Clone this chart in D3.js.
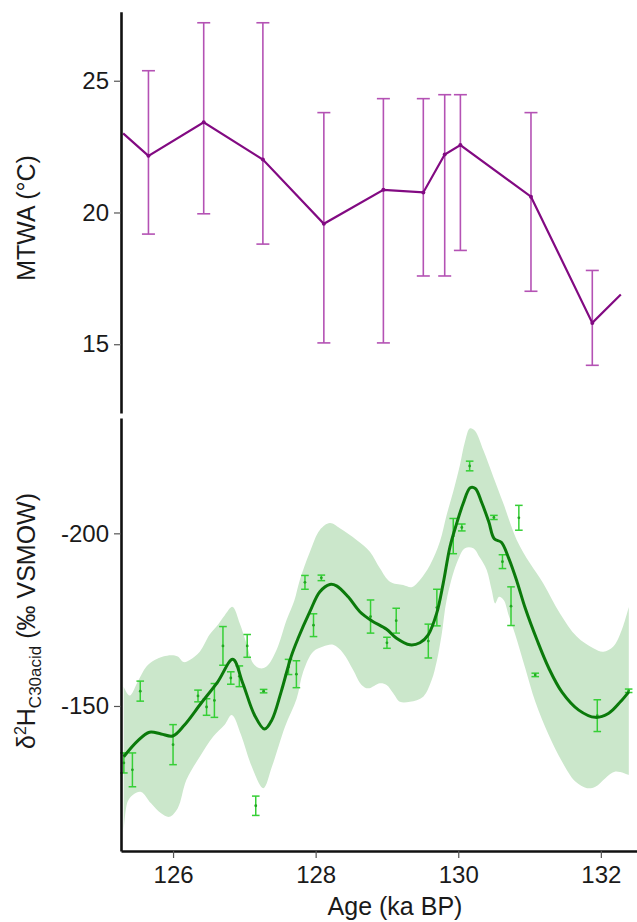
<!DOCTYPE html>
<html>
<head>
<meta charset="utf-8">
<script src="https://cdn.jsdelivr.net/npm/d3@7"></script>
<style>
  body { margin: 0; background: #fff; }
  svg { display: block; font-family: "Liberation Sans", Arial, sans-serif; }
</style>
</head>
<body>
<svg width="637" height="922"></svg>
<script>
// --- MTWA (top panel) ---
var mtwaAge = [125.30, 125.655, 126.43, 127.26, 128.115, 128.95, 129.51, 129.81, 130.03, 131.02, 131.88, 132.28];
var mtwaVal = [23.0, 22.15, 23.42, 22.01, 19.57, 20.86, 20.76, 22.2, 22.56, 20.6, 15.81, 16.89];
var mtwaHi  = [null, 25.38, 27.2, 27.2, 23.79, 24.32, 24.32, 24.47, 24.47, 23.79, 17.8, null];
var mtwaLo  = [null, 19.18, 19.95, 18.8, 15.05, 15.05, 17.59, 17.59, 18.56, 17.01, 14.2, null];
var mtwaTicks = [15, 20, 25];

// --- d2H C30 acid (bottom panel) ---
var d2hAge = [125.31, 125.43, 125.54, 126.00, 126.35, 126.47, 126.58, 126.70, 126.81, 126.93, 127.04,
              127.16, 127.27, 127.62, 127.73, 127.85, 127.97, 128.08, 128.77, 129.00, 129.13, 129.58,
              129.70, 129.93, 130.05, 130.16, 130.50, 130.62, 130.74, 130.85, 131.08, 131.95, 132.39];
var d2hVal = [-133.5, -131.5, -154.3, -138.8, -152.9, -149.7, -151.6, -167.4, -158.1, -158.6, -167.4,
              -121.1, -154.3, -161.3, -159.2, -185.8, -173.4, -187.1, -175.9, -168.3, -174.7, -168.8,
              -178.5, -199.2, -201.7, -219.5, -204.6, -191.8, -178.9, -204.5, -159.0, -147.2, -154.4];
var d2hErr = [2.9, 4.9, 2.9, 5.8, 1.7, 2.4, 4.9, 5.6, 1.8, 3.0, 3.3,
              2.8, 0.5, 2.2, 3.9, 2.0, 3.3, 0.8, 4.8, 1.6, 3.6, 4.9,
              5.3, 5.1, 1.0, 1.4, 0.6, 2.0, 5.6, 3.6, 0.5, 4.6, 0.5];

// smoothed fit
var fitAge = [125.308, 125.504, 125.669, 125.832, 125.996, 126.160, 126.393, 126.627, 126.838, 126.978,
              127.142, 127.283, 127.385, 127.516, 127.656, 127.754, 127.919, 128.059, 128.199, 128.293,
              128.456, 128.620, 128.785, 128.995, 129.135, 129.322, 129.462, 129.579, 129.697, 129.789,
              129.884, 129.978, 130.070, 130.168, 130.239, 130.333, 130.427, 130.505, 130.604, 130.707,
              130.824, 130.940, 131.105, 131.269, 131.455, 131.690, 131.923, 132.111, 132.274, 132.392];
var fitVal = [-135.3, -139.9, -142.4, -141.9, -141.3, -144.5, -150.8, -157.0, -163.5, -156.6,
              -147.4, -143.3, -145.9, -154.1, -164.3, -169.6, -177.3, -183.1, -185.2, -184.8,
              -181.6, -177.3, -174.7, -172.2, -169.6, -167.7, -168.3, -170.6, -176.8, -185.5,
              -196.1, -202.9, -208.7, -213.2, -213.0, -208.7, -203.4, -198.4, -197.4, -192.8,
              -186.0, -178.3, -169.1, -161.0, -154.0, -148.8, -146.7, -147.9, -151.2, -154.1];

// confidence band edges
var bandUpAge = [125.308, 125.392, 125.504, 125.627, 125.743, 125.860, 125.978, 126.066, 126.150, 126.234,
                 126.375, 126.511, 126.609, 126.726, 126.834, 126.936, 127.030, 127.123, 127.217, 127.311,
                 127.451, 127.592, 127.700, 127.778, 127.919, 128.059, 128.199, 128.339, 128.574, 128.761,
                 128.901, 129.042, 129.228, 129.346, 129.463, 129.604, 129.743, 129.837, 129.930, 130.024,
                 130.094, 130.164, 130.234, 130.351, 130.491, 130.632, 130.820, 131.006, 131.193, 131.427,
                 131.662, 131.895, 132.035, 132.175, 132.293, 132.392];
var bandUpVal = [-155.6, -153.0, -157.0, -161.4, -163.3, -164.3, -164.7, -164.3, -162.7, -163.3,
                 -165.7, -170.6, -173.0, -176.3, -178.7, -173.9, -168.1, -162.4, -160.9, -161.4,
                 -166.2, -174.9, -180.5, -186.5, -194.6, -201.0, -203.0, -201.5, -198.1, -194.7,
                 -189.9, -186.0, -185.0, -184.4, -186.5, -190.8, -197.6, -205.3, -212.1, -219.8,
                 -226.5, -230.4, -229.7, -224.1, -216.4, -208.7, -198.1, -191.3, -185.5, -176.8,
                 -170.1, -166.7, -165.7, -167.2, -172.0, -178.7];
var bandLoAge = [125.308, 125.364, 125.435, 125.551, 125.691, 125.832, 125.949, 126.066, 126.188, 126.375,
                 126.561, 126.721, 126.824, 126.954, 127.095, 127.266, 127.385, 127.570, 127.732, 127.825,
                 127.965, 128.105, 128.246, 128.386, 128.526, 128.644, 128.737, 128.901, 128.995, 129.088,
                 129.182, 129.322, 129.509, 129.627, 129.697, 129.767, 129.837, 129.978, 130.094, 130.211,
                 130.305, 130.399, 130.469, 130.519, 130.571, 130.637, 130.707, 130.800, 130.940, 131.081,
                 131.269, 131.455, 131.642, 131.806, 131.923, 132.063, 132.204, 132.392];
var bandLoVal = [-113.6, -122.3, -124.2, -125.1, -121.8, -118.9, -117.9, -120.4, -128.6, -135.3,
                 -141.1, -144.5, -147.4, -141.6, -132.9, -126.2, -132.3, -144.0, -152.0, -159.9,
                 -165.7, -167.2, -167.7, -165.3, -160.4, -156.1, -155.1, -156.6, -156.1, -153.7,
                 -151.2, -151.2, -152.7, -157.5, -162.8, -170.6, -180.7, -191.3, -195.7, -195.7,
                 -192.9, -189.4, -183.6, -179.7, -181.6, -180.7, -176.3, -170.6, -160.9, -151.2,
                 -141.6, -133.9, -128.1, -126.2, -126.6, -129.1, -131.0, -130.0];
var d2hTicks = [-200, -150];
var ageTicks = [126, 128, 130, 132];

var svg = d3.select("svg");

var x = d3.scaleLinear().domain([125.27, 132.5]).range([121, 636.5]);
var yTop = d3.scaleLinear().domain([12.39, 27.62]).range([413, 11.7]);
var yBot = d3.scaleLinear().domain([-233.4, -108]).range([418, 851]);

// plain hyphen for negatives, like the original
function plain(d) { return String(d); }

function styleAxis(g) {
    g.select(".domain").attr("stroke", "#111").attr("stroke-width", 2.6);
    g.selectAll(".tick line").attr("stroke", "#555").attr("stroke-width", 1.2);
    g.selectAll(".tick text").attr("fill", "#1a1a1a").style("font-size", "24px")
        .style("font-family", "'Liberation Sans', Arial, sans-serif");
}

// ---------- top panel ----------
var gTop = svg.append("g");
var mtwa = mtwaAge.map(function(a, i) {
    return { age: a, v: mtwaVal[i], hi: mtwaHi[i], lo: mtwaLo[i] };
});

var errTop = gTop.selectAll(".errTop")
    .data(mtwa.filter(function(d) { return d.hi != null; }))
    .enter().append("g")
    .attr("stroke", "#b452b4").attr("stroke-width", 1.6).attr("fill", "none");
errTop.append("line")
    .attr("x1", function(d) { return x(d.age); }).attr("x2", function(d) { return x(d.age); })
    .attr("y1", function(d) { return yTop(d.hi); }).attr("y2", function(d) { return yTop(d.lo); });
errTop.append("line")
    .attr("x1", function(d) { return x(d.age) - 6.5; }).attr("x2", function(d) { return x(d.age) + 6.5; })
    .attr("y1", function(d) { return yTop(d.hi); }).attr("y2", function(d) { return yTop(d.hi); });
errTop.append("line")
    .attr("x1", function(d) { return x(d.age) - 6.5; }).attr("x2", function(d) { return x(d.age) + 6.5; })
    .attr("y1", function(d) { return yTop(d.lo); }).attr("y2", function(d) { return yTop(d.lo); });

gTop.append("path")
    .datum(mtwa)
    .attr("fill", "none")
    .attr("stroke", "#820a82")
    .attr("stroke-width", 2.2)
    .attr("d", d3.line().x(function(d) { return x(d.age); }).y(function(d) { return yTop(d.v); }));

gTop.selectAll(".dotTop")
    .data(mtwa.slice(1, -1))
    .enter().append("circle")
    .attr("cx", function(d) { return x(d.age); })
    .attr("cy", function(d) { return yTop(d.v); })
    .attr("r", 2)
    .attr("fill", "#820a82");

var axTop = svg.append("g")
    .attr("transform", "translate(121,0)")
    .call(d3.axisLeft(yTop).tickValues(mtwaTicks).tickFormat(plain).tickSize(7).tickSizeOuter(0).tickPadding(5));
styleAxis(axTop);

svg.append("text")
    .attr("transform", "translate(35,218) rotate(-90)")
    .attr("text-anchor", "middle")
    .attr("fill", "#1a1a1a")
    .style("font-size", "25px")
    .text("MTWA (°C)");

// ---------- bottom panel ----------
var gBot = svg.append("g");

var upPts = bandUpAge.map(function(a, i) { return [x(a), yBot(bandUpVal[i])]; });
var loPts = bandLoAge.map(function(a, i) { return [x(a), yBot(bandLoVal[i])]; }).reverse();
var edge = d3.line().curve(d3.curveCatmullRom.alpha(0.5));
gBot.append("path")
    .attr("fill", "#cbe7cb")
    .attr("stroke", "none")
    .attr("d", edge(upPts) + "L" + edge(loPts).slice(1) + "Z");

var pts = d2hAge.map(function(a, i) { return { age: a, v: d2hVal[i], e: d2hErr[i] }; });
var errBot = gBot.selectAll(".errBot")
    .data(pts)
    .enter().append("g")
    .attr("stroke", "#36cf36").attr("stroke-width", 1.5).attr("fill", "none");
errBot.append("line")
    .attr("x1", function(d) { return x(d.age); }).attr("x2", function(d) { return x(d.age); })
    .attr("y1", function(d) { return yBot(d.v - d.e); }).attr("y2", function(d) { return yBot(d.v + d.e); });
errBot.append("line")
    .attr("x1", function(d) { return x(d.age) - 3.8; }).attr("x2", function(d) { return x(d.age) + 3.8; })
    .attr("y1", function(d) { return yBot(d.v - d.e); }).attr("y2", function(d) { return yBot(d.v - d.e); });
errBot.append("line")
    .attr("x1", function(d) { return x(d.age) - 3.8; }).attr("x2", function(d) { return x(d.age) + 3.8; })
    .attr("y1", function(d) { return yBot(d.v + d.e); }).attr("y2", function(d) { return yBot(d.v + d.e); });
gBot.selectAll(".dotBot")
    .data(pts)
    .enter().append("circle")
    .attr("cx", function(d) { return x(d.age); })
    .attr("cy", function(d) { return yBot(d.v); })
    .attr("r", 1.4)
    .attr("fill", "#22a822");

gBot.append("path")
    .datum(fitAge.map(function(a, i) { return [x(a), yBot(fitVal[i])]; }))
    .attr("fill", "none")
    .attr("stroke", "#0b7a0b")
    .attr("stroke-width", 3)
    .attr("stroke-linejoin", "round")
    .attr("d", d3.line().curve(d3.curveCatmullRom.alpha(0.5)));

var axLeft = svg.append("g")
    .attr("transform", "translate(121,0)")
    .call(d3.axisLeft(yBot).tickValues(d2hTicks).tickFormat(plain).tickSize(7).tickSizeOuter(0).tickPadding(5));
styleAxis(axLeft);

var axBottom = svg.append("g")
    .attr("transform", "translate(0,851)")
    .call(d3.axisBottom(x).tickValues(ageTicks).tickFormat(plain).tickSize(7).tickSizeOuter(0).tickPadding(8));
styleAxis(axBottom);

var lab = svg.append("text")
    .attr("transform", "translate(35,621) rotate(-90)")
    .attr("text-anchor", "middle")
    .attr("fill", "#1a1a1a")
    .style("font-size", "25px");
lab.append("tspan").text("δ");
lab.append("tspan").attr("dy", -9).style("font-size", "16px").text("2");
lab.append("tspan").attr("dy", 9).text("H");
lab.append("tspan").attr("dy", 6).style("font-size", "17px").text("C30acid");
lab.append("tspan").attr("dy", -6).text(" (‰ VSMOW)");

svg.append("text")
    .attr("x", 395)
    .attr("y", 915)
    .attr("text-anchor", "middle")
    .attr("fill", "#1a1a1a")
    .style("font-size", "25px")
    .text("Age (ka BP)");
</script>
</body>
</html>
